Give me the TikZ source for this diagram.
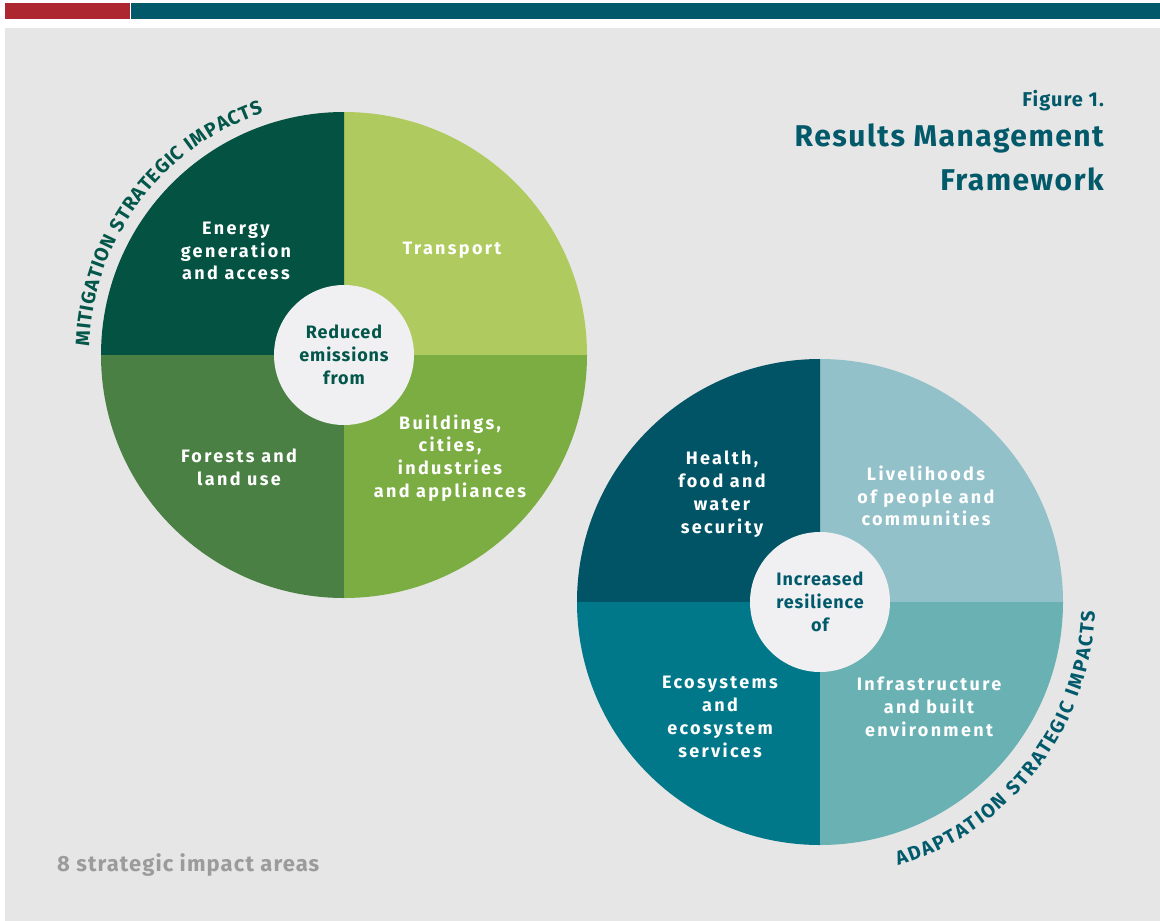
\documentclass[tikz,border=0pt]{standalone}
\usepackage{fontspec}
\setmainfont{Fira Sans}
\newfontfamily\areafont[LetterSpace=13]{Fira Sans}
\newfontfamily\spacedfont[LetterSpace=5]{Fira Sans}
\usetikzlibrary{decorations.text,positioning}
\definecolor{bgGray}{HTML}{E6E6E6}
\definecolor{barRed}{HTML}{AD2730}
\definecolor{barTeal}{HTML}{01596A}
\definecolor{energyCol}{HTML}{045242}
\definecolor{transportCol}{HTML}{AFCA5E}
\definecolor{forestCol}{HTML}{4A8044}
\definecolor{buildCol}{HTML}{7BAD42}
\definecolor{healthCol}{HTML}{015466}
\definecolor{liveCol}{HTML}{93C1C9}
\definecolor{ecoCol}{HTML}{01788A}
\definecolor{infraCol}{HTML}{6AB1B4}
\definecolor{hubCol}{HTML}{F0F0F2}
\definecolor{mitiText}{HTML}{02574A}
\definecolor{adaptText}{HTML}{015A6B}
\definecolor{footGray}{HTML}{9B9B9B}
\newcommand\curvefont{\fontsize{19.5}{24}\selectfont\bfseries}
\tikzset{area/.style = {text=white, align=center, inner sep=0pt,
            font=\areafont\fontsize{18}{22.8}\selectfont\bfseries},
        hub/.style = {circle, fill=hubCol, minimum size=140pt, inner sep=0pt, align=center,
            font=\spacedfont\fontsize{18}{22.8}\selectfont\bfseries},
        heading/.style = {text=barTeal, anchor=base east, inner sep=0pt}
}

\begin{document}
\begin{tikzpicture}[x=1pt,y=1pt]
 \def \rad {243}
 % page, bars and panel
 \fill[white] (0,0) rectangle (1160,-921);
 \useasboundingbox (0,0) rectangle (1160,-921);
 \fill[bgGray] (5,-28) rectangle (1160,-921);
 \fill[barRed] (5,-3) rectangle (130,-19);
 \fill[barTeal] (131,-3) rectangle (1160,-19);

 \coordinate (m) at (344,-355);
 \coordinate (a) at (820,-602);
 \foreach \ang/\col in {0/transportCol,90/energyCol,180/forestCol,270/buildCol}{
  \fill[\col] (m) -- ++(\ang:\rad) arc (\ang:\ang+90:\rad) -- cycle;
 }
 \foreach \ang/\col in {0/liveCol,90/healthCol,180/ecoCol,270/infraCol}{
  \fill[\col] (a) -- ++(\ang:\rad) arc (\ang:\ang+90:\rad) -- cycle;
 }

 \node[hub, text=mitiText] (mhub) at (m) {Reduced\\emissions\\from};
 \node[hub, text=adaptText] (ahub) at (a) {Increased\\resilience\\of};

 \node[area] (energy) at (236,-251) {Energy\\generation\\and access};
 \node[area] (transport) at (452,-250) {Transport};
 \node[area] (forest) at (239,-467) {Forests and\\land use};
 \node[area] (build) at (450,-458) {Buildings,\\cities,\\industries\\and appliances};

 \node[area] (health) at (722,-494) {Health,\\food and\\water\\security};
 \node[area] (live) at (926,-496) {Livelihoods\\of people and\\communities};
 \node[area] (eco) at (720,-717) {Ecosystems\\and\\ecosystem\\services};
 \node[area] (infra) at (929,-707) {Infrastructure\\and built\\environment};

 % curved captions
 \path[decorate, decoration={text along path, text align={fit to path},
   text={|\curvefont\color{mitiText}|MITIGATION STRATEGIC IMPACTS}}]
   ([shift={(178:255)}]m) arc (178:108.5:255);
 \path[decorate, decoration={text along path, text align={fit to path},
   text={|\curvefont\color{adaptText}|ADAPTATION STRATEGIC IMPACTS}}]
   ([shift={(-73.5:275)}]a) arc (-73.5:-2:275);

 \node[heading, font=\spacedfont\fontsize{20}{24}\selectfont\bfseries] (fig) at (1104,-106) {Figure 1.};
 \node[heading, font=\spacedfont\fontsize{30}{36}\selectfont\bfseries] (title) at (1104,-146) {Results Management};
 \node[heading, font=\spacedfont\fontsize{30}{36}\selectfont\bfseries] (title2) at (1104,-190) {Framework};
 \node[anchor=base west, inner sep=0pt, text=footGray, font=\spacedfont\fontsize{22}{26}\selectfont\bfseries] (foot) at (57,-871) {8 strategic impact areas};
\end{tikzpicture}
\end{document}
